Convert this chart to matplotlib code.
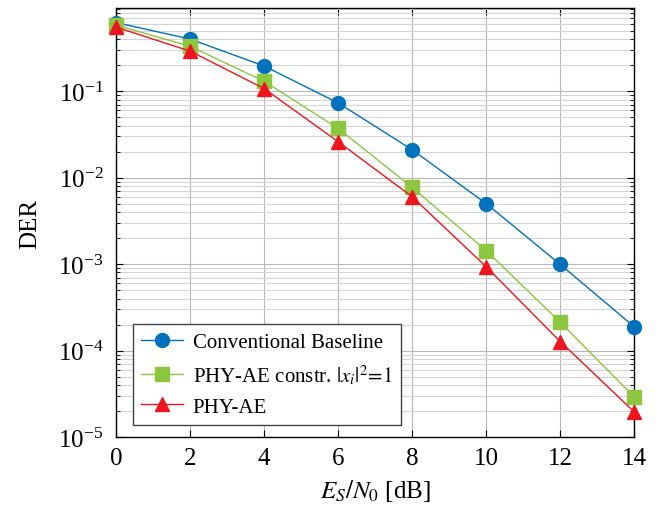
import numpy as np
import matplotlib.pyplot as plt

plt.rcParams['font.family'] = ['Liberation Serif', 'DejaVu Serif']
plt.rcParams['mathtext.fontset'] = 'stix'

snr = [0, 2, 4, 6, 8, 10, 12, 14]
der_baseline = [0.62, 0.40, 0.195, 0.073, 0.021, 0.0050, 0.00099, 0.000188]
der_constr = [0.58, 0.33, 0.13, 0.037, 0.0077, 0.00143, 0.000213, 0.000029]
der_ae = [0.55, 0.29, 0.107, 0.026, 0.0060, 0.00093, 0.000127, 0.0000195]

fig = plt.figure(figsize=(6.67, 5.10), dpi=100)
ax = fig.add_axes([0.174, 0.141, 0.777, 0.841])

ax.semilogy(snr, der_baseline, '-o', color='#0072BD', lw=1.0, ms=10,
            label='Conventional Baseline', zorder=3, clip_on=False)
ax.semilogy(snr, der_constr, '-s', color='#8DC63F', lw=1.0, ms=10,
            label=r'PHY-AE constr. $|x_i|^2\!=\!1$', zorder=3, clip_on=False)
ax.semilogy(snr, der_ae, '-^', color='#F0141E', lw=1.0, ms=10,
            label='PHY-AE', zorder=3, clip_on=False)

ax.set_xlim(0, 14)
ax.set_ylim(1e-5, 0.91)
ax.set_xticks(snr)
ax.grid(True, which='major', color='#b8b8b8', lw=0.8)
ax.grid(True, which='minor', axis='y', color='#d4d4d4', lw=0.8)
ax.tick_params(which='both', direction='in', labelsize=18, top=True, right=True)
ax.tick_params(axis='y', which='major', pad=9)
ax.tick_params(axis='x', which='major', pad=7)
ax.tick_params(which='major', length=5)
ax.tick_params(which='minor', length=3)
for s in ax.spines.values():
    s.set_linewidth(1.0)

ax.set_xlabel(r'$E_S/N_0$ [dB]', fontsize=18, labelpad=6)
ax.set_ylabel('DER', fontsize=18, labelpad=12)

leg = ax.legend(loc='lower left', fontsize=15, fancybox=False, framealpha=1,
                edgecolor='#444444', handlelength=2.0, handletextpad=0.45,
                borderpad=0.4, borderaxespad=0, labelspacing=0.5,
                bbox_to_anchor=(0.033, 0.028))
leg.get_frame().set_linewidth(1.0)

fig.savefig('out.png', dpi=100)
